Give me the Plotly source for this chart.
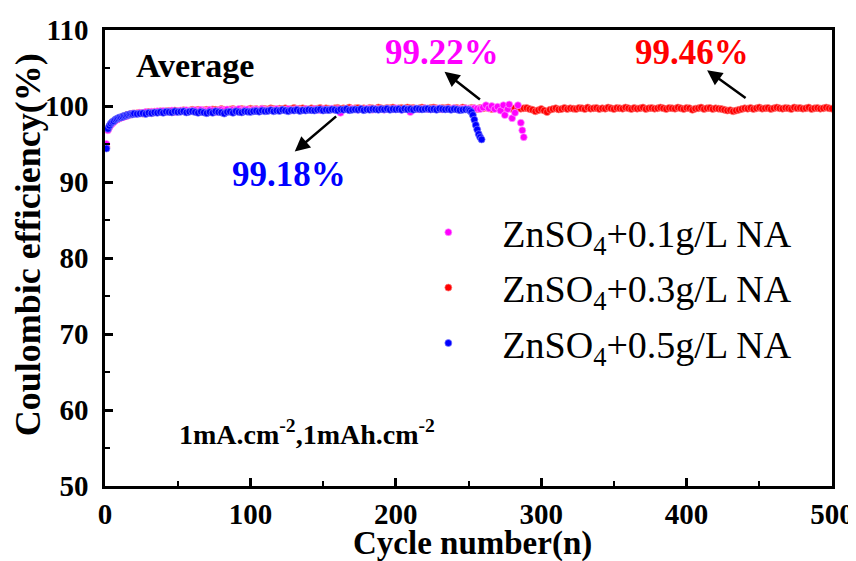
import plotly.graph_objects as go

# ---------------- data ----------------
early_cycles = list(range(1, 21))

red_early = [94.6, 96.9, 97.3, 97.6, 97.8, 98.0, 98.1, 98.2, 98.3, 98.4,
             98.5, 98.6, 98.6, 98.7, 98.8, 98.8, 98.9, 98.9, 99.0, 99.0]
red_cycles = early_cycles + list(range(22, 501, 2))
red_values = red_early + [
    99.05, 99.1, 99.0, 99.15, 99.2, 99.1, 99.25, 99.2, 99.3, 99.25, 99.3, 99.35, 99.2, 99.4, 99.3, 99.35, 99.45, 99.3, 99.4, 99.5,
    99.4, 99.5, 99.35, 99.45, 99.5, 99.4, 99.55, 99.5, 99.45, 99.6, 99.5, 99.4, 99.55, 99.6, 99.5, 99.45, 99.6, 99.55, 99.5, 99.65,
    99.55, 99.6, 99.5, 99.65, 99.6, 99.55, 99.7, 99.6, 99.5, 99.65, 99.6, 99.7, 99.55, 99.6, 99.75, 99.6, 99.65, 99.7, 99.6, 99.55,
    99.7, 99.6, 99.65, 99.75, 99.6, 99.7, 99.65, 99.55, 99.7, 99.75, 99.6, 99.7, 99.65, 99.8, 99.6, 99.7, 99.75, 99.65, 99.7, 99.6,
    99.75, 99.7, 99.6, 99.8, 99.7, 99.65, 99.75, 99.7, 99.8, 99.6, 99.7, 99.75, 99.65, 99.8, 99.7, 99.75, 99.6, 99.7, 99.8, 99.7,
    99.65, 99.75, 99.8, 99.7, 99.6, 99.75, 99.7, 99.8, 99.65, 99.7, 99.75, 99.6, 99.8, 99.7, 99.65, 99.75, 99.7, 99.6, 99.75, 99.7,
    99.8, 99.7, 99.6, 99.75, 99.7, 99.65, 99.8, 99.7, 99.75, 99.6, 99.7, 99.8, 99.65, 99.7, 99.75, 99.6, 99.5, 99.3, 99.45, 99.6,
    99.4, 99.2, 99.5, 99.6, 99.7, 99.55, 99.6, 99.75, 99.6, 99.7, 99.65, 99.6, 99.75, 99.7, 99.6, 99.8, 99.65, 99.7, 99.75, 99.6,
    99.7, 99.65, 99.8, 99.7, 99.6, 99.75, 99.7, 99.65, 99.8, 99.7, 99.6, 99.75, 99.65, 99.7, 99.8, 99.6, 99.7, 99.75, 99.65, 99.7,
    99.8, 99.7, 99.6, 99.75, 99.7, 99.65, 99.8, 99.7, 99.6, 99.75, 99.7, 99.5, 99.65, 99.7, 99.8, 99.6, 99.7, 99.75, 99.6, 99.7,
    99.65, 99.6, 99.5, 99.4, 99.45, 99.3, 99.4, 99.5, 99.6, 99.7, 99.65, 99.75, 99.6, 99.7, 99.8, 99.65, 99.7, 99.75, 99.6, 99.7,
    99.8, 99.7, 99.65, 99.75, 99.7, 99.6, 99.8, 99.7, 99.75, 99.65, 99.7, 99.8, 99.6, 99.7, 99.75, 99.65, 99.7, 99.8, 99.7, 99.65,
]

blue_early = [94.4, 97.0, 97.4, 97.7, 97.9, 98.0, 98.2, 98.3, 98.4, 98.5,
              98.5, 98.6, 98.7, 98.7, 98.8, 98.8, 98.9, 98.9, 98.9, 99.0]
blue_cycles = early_cycles + list(range(22, 251, 2)) + list(range(251, 260))
blue_values = blue_early + [
    98.95, 99.0, 99.05, 98.95, 99.1, 99.05, 99.15, 99.1, 99.2, 99.1, 99.25, 99.2, 99.15, 99.3, 99.2, 99.25, 99.3, 99.15, 99.25, 99.3,
    99.2, 99.1, 99.25, 99.15, 99.05, 99.2, 99.1, 99.3, 99.2, 99.15, 99.0, 99.2, 99.25, 99.1, 99.3, 99.2, 99.15, 99.3, 99.25, 99.2,
    99.3, 99.35, 99.25, 99.4, 99.3, 99.35, 99.45, 99.3, 99.4, 99.35, 99.5, 99.4, 99.3, 99.45, 99.4, 99.5, 99.35, 99.45, 99.4, 99.5,
    99.45, 99.4, 99.5, 99.55, 99.4, 99.5, 99.45, 99.55, 99.5, 99.4, 99.55, 99.5, 99.6, 99.45, 99.5, 99.55, 99.5, 99.6, 99.45, 99.55,
    99.5, 99.6, 99.55, 99.5, 99.6, 99.55, 99.65, 99.5, 99.6, 99.55, 99.6, 99.5, 99.65, 99.55, 99.6, 99.5, 99.65, 99.6, 99.55, 99.6,
    99.65, 99.55, 99.6, 99.5, 99.65, 99.6, 99.55, 99.6, 99.5, 99.6, 99.55, 99.45, 99.5, 99.55, 99.5,
    99.4, 99.2, 98.8, 98.2, 97.5, 96.9, 96.3, 95.9, 95.6,
]

pink_early = [95.0, 96.8, 97.2, 97.5, 97.7, 97.9, 98.1, 98.2, 98.3, 98.4,
              98.5, 98.5, 98.6, 98.7, 98.7, 98.8, 98.9, 98.9, 99.0, 99.0]
pink_cycles = early_cycles + list(range(22, 259, 2)) + [
    260, 262, 264, 266, 268, 270, 272, 274, 275, 277, 278, 280, 282, 284, 286, 287, 288]
pink_values = pink_early + [
    99.0, 99.1, 99.05, 99.2, 99.1, 99.25, 99.15, 99.3, 99.2, 99.35, 99.25, 99.3, 99.4, 99.2, 99.35, 99.4, 99.3, 99.45, 99.35, 99.4,
    99.45, 99.3, 99.5, 99.4, 99.35, 99.5, 99.4, 99.2, 99.45, 99.5, 99.4, 99.55, 99.35, 99.5, 99.45, 99.6, 99.4, 99.5, 99.55, 99.4,
    99.5, 99.55, 99.45, 99.6, 99.5, 99.4, 99.55, 99.5, 99.6, 99.45, 99.55, 99.5, 99.6, 99.4, 99.55, 99.6, 99.5, 99.45, 99.6, 99.55,
    99.5, 99.6, 99.55, 99.45, 99.6, 99.5, 99.55, 99.65, 99.5, 99.6, 99.1, 99.55, 99.6, 99.5, 99.65, 99.55, 99.5, 99.6, 99.55, 99.65,
    99.6, 99.5, 99.65, 99.55, 99.6, 99.5, 99.65, 99.6, 99.55, 99.7, 99.6, 99.5, 99.65, 99.6, 99.2, 99.6, 99.65, 99.55, 99.6, 99.7,
    99.6, 99.55, 99.65, 99.6, 99.7, 99.55, 99.6, 99.65, 99.6, 99.7, 99.55, 99.65, 99.6, 99.7, 99.65, 99.6, 99.7, 99.65, 99.6,
    99.8, 100.1, 99.7, 100.0, 99.6, 99.9, 99.4, 100.1, 98.8, 99.6, 100.2, 98.4, 99.1, 100.1, 97.8, 96.8, 95.9,
]

series_names = ["ZnSO<sub>4</sub>+0.1g/L NA", "ZnSO<sub>4</sub>+0.3g/L NA", "ZnSO<sub>4</sub>+0.5g/L NA"]
series_colors = ["#FF00FF", "#FF0000", "#0000FF"]
series_edges = ["#FF99FF", "#FF8080", "#8080FF"]

x_ticks = [0, 100, 200, 300, 400, 500]
y_ticks = [50, 60, 70, 80, 90, 100, 110]

FONT = "Liberation Serif, Times New Roman, serif"

fig = go.Figure()

# draw order: red, pink, blue (blue on top); legend order pink, red, blue
order = [
    (1, red_cycles, red_values),
    (0, pink_cycles, pink_values),
    (2, blue_cycles, blue_values),
]
for idx, xs, ys in order:
    fig.add_trace(go.Scatter(
        x=xs, y=ys, mode="markers", name=series_names[idx],
        legendgroup=str(idx), legendrank=idx + 1,
        marker=dict(size=7, color=series_colors[idx],
                    line=dict(width=0.7, color=series_edges[idx])),
    ))

axis_common = dict(
    showline=True, linecolor="black", linewidth=2.5, mirror=True,
    ticks="inside", ticklen=8, tickwidth=2.5, tickcolor="black",
    showgrid=False, zeroline=False, automargin=False,
    tickfont=dict(family=FONT, size=29, color="black", weight="bold"),
)

fig.update_xaxes(
    range=[0, 500], tickvals=x_ticks, ticktext=[str(v) for v in x_ticks],
    minor=dict(ticks="inside", ticklen=5, tickwidth=2, dtick=50, tickcolor="black"),
    ticklabelstandoff=0,
    **axis_common,
)
fig.update_yaxes(
    range=[50, 110], tickvals=y_ticks, ticktext=[str(v) for v in y_ticks],
    minor=dict(ticks="inside", ticklen=5, tickwidth=2, dtick=5, tickcolor="black"),
    ticklabelstandoff=8,
    **axis_common,
)

ann_font = lambda size, color: dict(family=FONT, size=size, color=color, weight="bold")

annotations = [
    dict(text="Coulombic efficiency(%)", xref="paper", yref="paper", x=-0.106, y=0.53,
         xanchor="center", yanchor="middle",
         textangle=-90, showarrow=False, font=ann_font(36, "black")),
    dict(text="Cycle number(n)", xref="paper", yref="paper", x=0.505, y=-0.126,
         xanchor="center", yanchor="middle",
         showarrow=False, font=ann_font(33, "black")),
    dict(text="Average", x=61.8, y=105.3, showarrow=False, font=ann_font(34, "black")),
    dict(text="99.22%", x=231.5, y=107.0, showarrow=False, font=ann_font(35, "#FF00FF")),
    dict(text="99.46%", x=403.8, y=107.0, showarrow=False, font=ann_font(35, "#FF0000")),
    dict(text="99.18%", x=126.4, y=91.0, showarrow=False, font=ann_font(35, "#0000FF")),
    dict(text="1mA.cm<sup>-2</sup>,1mAh.cm<sup>-2</sup>", x=138.7, y=57.1, showarrow=False,
         font=ann_font(28, "black")),
]
arrows = [
    (233.5, 104.5, 258.9, 100.7),
    (414.1, 104.7, 441.6, 100.9),
    (130.5, 94.0, 160.0, 98.8),
]
for hx, hy, tx, ty in arrows:
    annotations.append(dict(
        text="", x=hx, y=hy, ax=tx, ay=ty, xref="x", yref="y", axref="x", ayref="y",
        showarrow=True, arrowhead=2, arrowsize=1.2, arrowwidth=2.5, arrowcolor="black",
    ))

# the page body adds an 8 px offset, so the figure is 8 px smaller and
# the left/top margins 8 px narrower to land the plot at the reference spot
fig.update_layout(
    width=848, height=553,
    margin=dict(l=97, r=24, t=22, b=75),
    plot_bgcolor="white", paper_bgcolor="white",
    font=dict(family=FONT, color="black"),
    showlegend=True,
    legend=dict(
        x=0.398, y=0.625, xanchor="left", yanchor="top",
        traceorder="grouped", tracegroupgap=3, itemwidth=98,
        font=dict(family=FONT, size=38, color="black"),
        bgcolor="rgba(0,0,0,0)",
    ),
    annotations=annotations,
)

fig.write_html("out.html")
